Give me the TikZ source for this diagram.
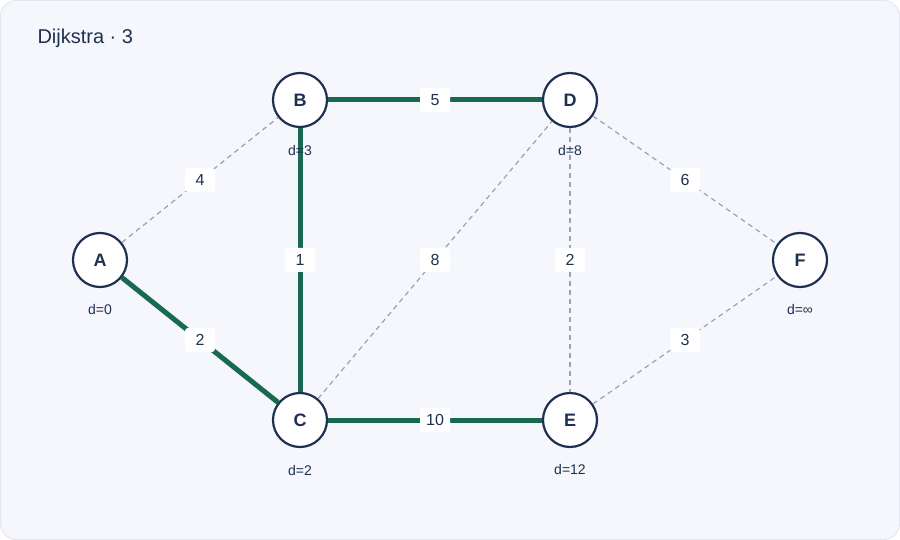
\documentclass[tikz,border=0pt]{standalone}
\usepackage{fontspec}
\setmainfont{Liberation Sans}
\definecolor{navy}{HTML}{1E3050}
\definecolor{tree}{HTML}{17694F}
\definecolor{dash}{HTML}{98A2B8}
\definecolor{panel}{HTML}{F5F7FC}
\definecolor{rim}{HTML}{E3E7EF}
\begin{document}
\begin{tikzpicture}[x=1pt,y=-1pt,
  vertex/.style={circle,draw=navy,line width=2.2pt,fill=white,minimum size=54pt,inner sep=0pt,font=\fontsize{18}{18}\selectfont\bfseries,text=navy},
  dist/.style={font=\fontsize{14}{14}\selectfont,text=navy},
  tree/.style={draw=tree,line width=5pt},
  other/.style={draw=dash,line width=1.2pt,dash pattern=on 5pt off 4pt},
  weight/.style={fill=white,rounded corners=3pt,inner sep=4pt,minimum width=30pt,minimum height=24pt,font=\fontsize{16}{16}\selectfont,text=navy}]
\draw[rim,fill=panel,line width=1pt,rounded corners=16pt] (0.5,0.5) rectangle (899.5,539.5);
\useasboundingbox (0,0) rectangle (900,540);
\node[anchor=west,font=\fontsize{20}{20}\selectfont,text=navy] (title) at (34,38) {Dijkstra · 3};
% vertices
\node[vertex] (A) at (100,260) {A};
\node[vertex] (B) at (300,100) {B};
\node[vertex] (C) at (300,420) {C};
\node[vertex] (D) at (570,100) {D};
\node[vertex] (E) at (570,420) {E};
\node[vertex] (F) at (800,260) {F};
% edges
\begin{scope}[on background layer/.style={}]
\draw[other] (A) -- node[weight] (wab) {4} (B);
\draw[other] (C) -- node[weight] (wcd) {8} (D);
\draw[other] (D) -- node[weight] (wde) {2} (E);
\draw[other] (D) -- node[weight] (wdf) {6} (F);
\draw[other] (E) -- node[weight] (wef) {3} (F);
\draw[tree] (A) -- node[weight] (wac) {2} (C);
\draw[tree] (B) -- node[weight] (wbc) {1} (C);
\draw[tree] (B) -- node[weight] (wbd) {5} (D);
\draw[tree] (C) -- node[weight] (wce) {10} (E);
\end{scope}
% distances
\node[dist] (dA) at (100,309) {d=0};
\node[dist] (dB) at (300,150) {d=3};
\node[dist] (dC) at (300,470) {d=2};
\node[dist] (dD) at (570,150) {d=8};
\node[dist] (dE) at (570,469) {d=12};
\node[dist] (dF) at (800,309) {d=∞};
\end{tikzpicture}
\end{document}
